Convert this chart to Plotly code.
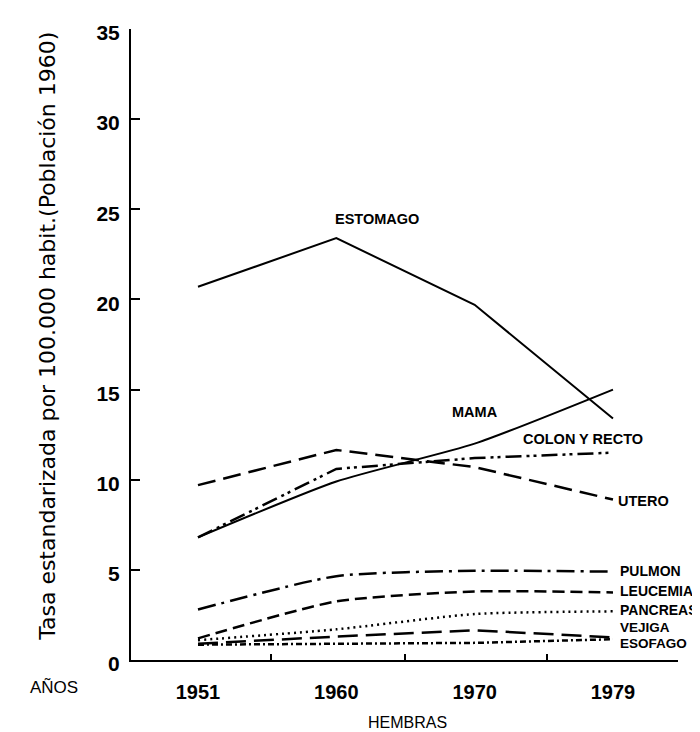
import plotly.graph_objects as go

# ---- data ----
years = ["1951", "1960", "1970", "1979"]
estomago = [20.7, 23.4, 19.7, 13.4]
mama = [6.8, 9.9, 12.0, 15.0]
colon_recto = [6.8, 10.6, 11.2, 11.5]
utero = [9.7, 11.65, 10.7, 8.9]
pulmon = [2.8, 4.65, 4.95, 4.9]
leucemia = [1.2, 3.25, 3.8, 3.75]
pancreas = [1.1, 1.7, 2.55, 2.7]
vejiga = [0.9, 1.3, 1.65, 1.25]
esofago = [0.85, 0.9, 0.95, 1.15]

y_ticks = [0, 5, 10, 15, 20, 25, 30, 35]
x_pos = list(range(len(years)))

series = [
    ("ESTOMAGO", estomago, "solid", "linear", 2),
    ("MAMA", mama, "solid", "spline", 2),
    ("COLON Y RECTO", colon_recto, "16px,5px,3px,4px,3px,5px", "linear", 2.5),
    ("UTERO", utero, "18px,8px", "linear", 2.5),
    ("PULMON", pulmon, "18px,6px,3px,6px", "spline", 2.5),
    ("LEUCEMIA", leucemia, "12px,6px", "spline", 2.5),
    ("PANCREAS", pancreas, "2px,4px", "spline", 2.5),
    ("VEJIGA", vejiga, "20px,8px", "linear", 2.5),
    ("ESOFAGO", esofago, "6px,3px,2px,3px", "linear", 2.5),
]

fig = go.Figure()
for name, vals, dash, shape, w in series:
    fig.add_trace(go.Scatter(
        x=x_pos, y=vals, mode="lines", name=name,
        line=dict(color="black", width=w, dash=dash, shape=shape, smoothing=0.6),
        showlegend=False, hoverinfo="skip",
    ))

lab_font = dict(family="Liberation Sans, Arial, sans-serif", size=14.5, color="black")
right_font = dict(family="Liberation Sans, Arial, sans-serif", size=14, color="black")
small_font = dict(family="Liberation Sans, Arial, sans-serif", size=13.5, color="black")

# series labels: (text, x, y, xanchor, font)
labels = [
    ("ESTOMAGO", 1.294, 24.48, "center", lab_font),
    ("MAMA", 1.999, 13.75, "center", lab_font),
    ("COLON Y RECTO", 2.335, 12.27, "left", lab_font),
    ("UTERO", 3.022, 8.84, "left", lab_font),
    ("PULMON", 3.036, 4.95, "left", right_font),
    ("LEUCEMIA", 3.036, 3.81, "left", right_font),
    ("PANCREAS", 3.036, 2.76, "left", right_font),
    ("VEJIGA", 3.036, 1.82, "left", small_font),
    ("ESOFAGO", 3.036, 0.92, "left", small_font),
]
for text, x, y, xa, f in labels:
    fig.add_annotation(x=x, y=y, xref="x", yref="y", text="<b>" + text + "</b>",
                       showarrow=False, xanchor=xa, yanchor="middle", font=f)

fig.add_annotation(x=-0.152, y=0.5135, xref="paper", yref="paper",
                   text="Tasa estandarizada por 100.000 habit.(Población 1960)",
                   textangle=-90, showarrow=False, xanchor="center", yanchor="middle",
                   font=dict(family="DejaVu Sans, sans-serif", size=22, color="black"))
fig.add_annotation(x=-0.188, y=-0.0436, xref="paper", yref="paper", text="AÑOS",
                   showarrow=False, xanchor="left", yanchor="middle",
                   font=dict(family="Liberation Sans, Arial, sans-serif", size=17, color="black"))
fig.add_annotation(x=0.506, y=-0.099, xref="paper", yref="paper", text="HEMBRAS",
                   showarrow=False, xanchor="center", yanchor="middle",
                   font=dict(family="Liberation Sans, Arial, sans-serif", size=16, color="black"))

fig.update_layout(
    width=700, height=732,
    margin=dict(l=123, r=30, t=21, b=80),
    paper_bgcolor="white", plot_bgcolor="white",
    xaxis=dict(
        range=[-0.4843, 3.47], showgrid=False, zeroline=False,
        showline=True, linecolor="black", linewidth=2,
        tickmode="array", tickvals=x_pos, ticktext=["<b>%s</b>" % y for y in years],
        ticks="", ticklabelstandoff=13,
        tickfont=dict(family="Liberation Sans, Arial, sans-serif", size=20, color="black"),
        minor=dict(tickvals=[0.53, 1.5, 2.52], ticks="inside", ticklen=6,
                   tickwidth=2, tickcolor="black", showgrid=False),
    ),
    yaxis=dict(
        range=[0, 35], showgrid=False, zeroline=False,
        showline=True, linecolor="black", linewidth=2,
        tickmode="array", tickvals=y_ticks, ticktext=["<b>%d</b>" % v for v in y_ticks],
        ticks="inside", ticklen=9, tickwidth=2, tickcolor="black",
        ticklabelstandoff=5, ticklabelshift=4,
        tickfont=dict(family="Liberation Sans, Arial, sans-serif", size=21, color="black"),
    ),
)

fig.write_html("out.html")
